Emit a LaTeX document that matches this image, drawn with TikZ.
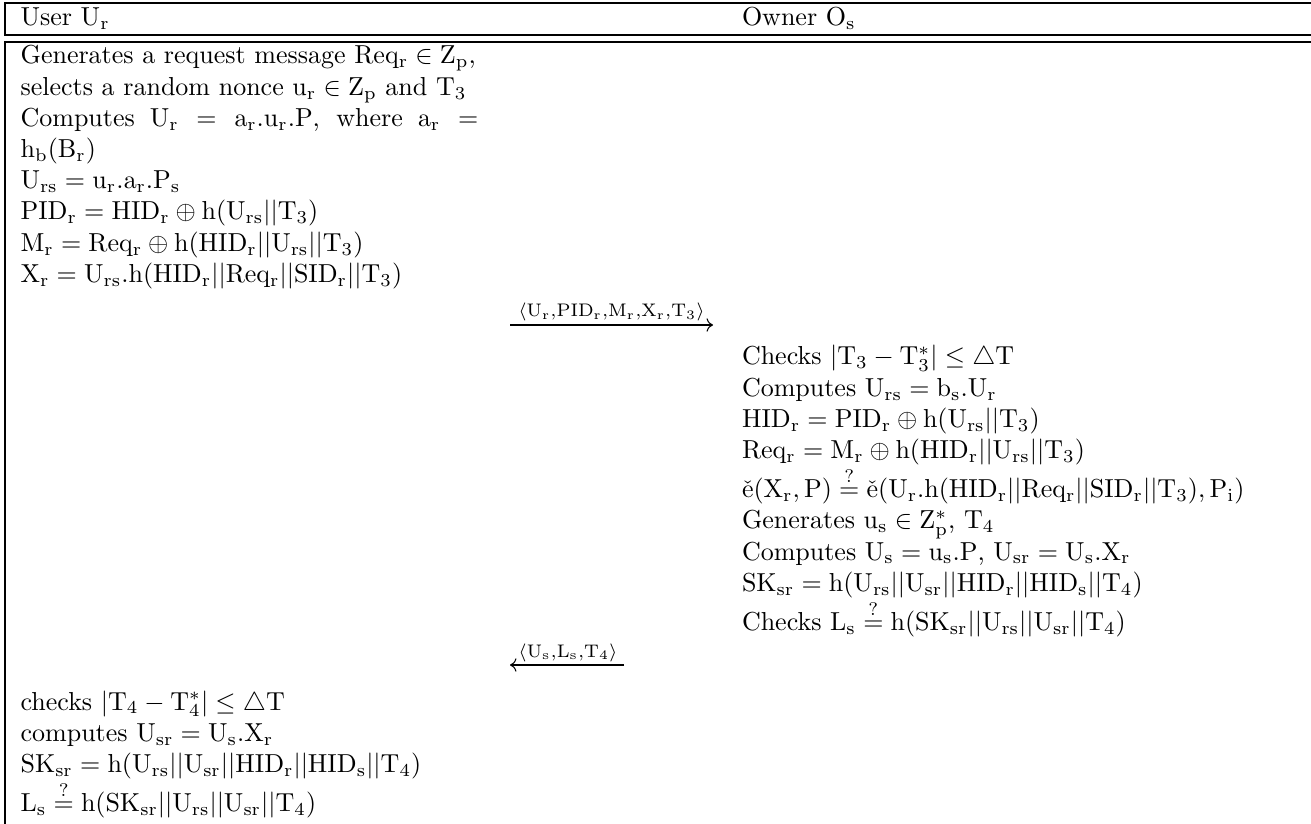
\documentclass[tikz,border=0pt]{standalone}
\usetikzlibrary{arrows.meta}
\tikzset{
  rule/.style={line width=0.45pt},
  block/.style={anchor=base west, inner sep=0pt, outer sep=0pt, text width=#1, align=left},
  msg/.style={line width=0.4pt, -{Computer Modern Rightarrow}},
  msglabel/.style={anchor=base, inner sep=0pt, outer sep=0pt},
}
\begin{document}
\begin{tikzpicture}[x=0.3846pt, y=-0.3846pt]
\useasboundingbox (0,0) rectangle (1311,824);

% table frame: header row, double rule, body
\draw[rule] (1311,3) -- (5,3) -- (5,35) -- (1311,35);
\draw[rule] (1311,42) -- (5,42) -- (5,824);

% header
\node[block=150pt] (user) at (20.6,26) {User $\mathrm{U_r}$};
\node[block=150pt] (owner) at (742,26) {Owner $\mathrm{O_s}$};

% user: request
\node[block=176pt, align=justify] (ureq) at (20.6,64) {Generates a request message $\mathrm{Req_r \in Z_p}$,\\
selects a random nonce $\mathrm{u_r \in Z_p}$ and $\mathrm{T_3}$\\
Computes $\mathrm{U_r} = \mathrm{a_r.u_r.P}$, where $\mathrm{a_r} =$\linebreak
$\mathrm{h_b(B_r)}$\\
$\mathrm{U_{rs} = u_r.a_r.P_s}$\\
$\mathrm{PID_r = HID_r \oplus h(U_{rs}||T_3)}$\\
$\mathrm{M_r = Req_r \oplus h(HID_r||U_{rs}||T_3)}$\\
$\mathrm{X_r = U_{rs}.h(HID_r||Req_r||SID_r||T_3)}$};

% first message
\coordinate (m1a) at (510,325);
\coordinate (m1b) at (713,325);
\draw[msg] (m1a) -- (m1b);
\node[msglabel] (m1) at (611.5,317) {$\scriptstyle\mathrm{\langle U_r,PID_r,M_r,X_r,T_3\rangle}$};

% owner: verification and reply
\node[block=230pt] (ovrf) at (742,365) {Checks $\mathrm{|T_3 - T_3^*| \leq \triangle T}$\\
Computes $\mathrm{U_{rs} = b_s.U_r}$\\
$\mathrm{HID_r = PID_r \oplus h(U_{rs}||T_3)}$\\
$\mathrm{Req_r = M_r \oplus h(HID_r||U_{rs}||T_3)}$\\
$\mathrm{\check{e}(X_r, P) \stackrel{?}{=} \check{e}(U_r.h(HID_r||Req_r||SID_r||T_3), P_i)}$\\
Generates $\mathrm{u_s \in Z_p^*}$, $\mathrm{T_4}$\\
Computes $\mathrm{U_s = u_s.P}$, $\mathrm{U_{sr} = U_s.X_r}$\\
$\mathrm{SK_{sr} = h(U_{rs}||U_{sr}||HID_r||HID_s||T_4)}$\\
Checks $\mathrm{L_s \stackrel{?}{=} h(SK_{sr}||U_{rs}||U_{sr}||T_4)}$};

% second message
\coordinate (m2a) at (624,665);
\coordinate (m2b) at (510,665);
\draw[msg] (m2a) -- (m2b);
\node[msglabel] (m2) at (568,657) {$\scriptstyle\mathrm{\langle U_s,L_s,T_4\rangle}$};

% user: session key
\node[block=176pt] (ukey) at (20.6,710) {checks $\mathrm{|T_4 - T_4^*| \leq \triangle T}$\\
computes $\mathrm{U_{sr} = U_s.X_r}$\\
$\mathrm{SK_{sr} = h(U_{rs}||U_{sr}||HID_r||HID_s||T_4)}$\\
$\mathrm{L_s \stackrel{?}{=} h(SK_{sr}||U_{rs}||U_{sr}||T_4)}$};
\end{tikzpicture}
\end{document}
